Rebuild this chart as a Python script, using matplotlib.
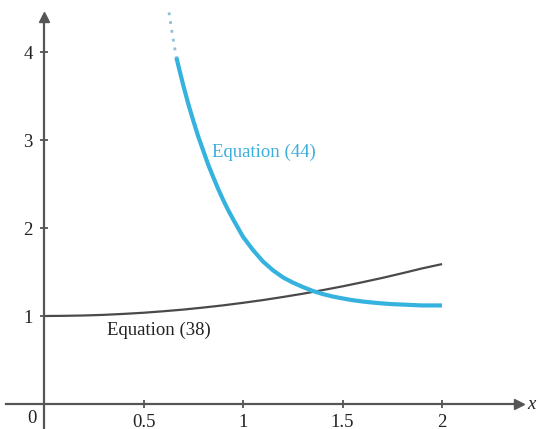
import matplotlib
matplotlib.use("Agg")
import matplotlib.pyplot as plt

# Equation (38) curve
x38 = [0.0, 0.1, 0.2, 0.3, 0.4, 0.5, 0.6, 0.7, 0.8, 0.9, 1.0,
       1.1, 1.2, 1.3, 1.4, 1.5, 1.6, 1.7, 1.8, 1.9, 2.0]
y38 = [1.000, 1.002, 1.006, 1.013, 1.024, 1.037, 1.054, 1.073, 1.096, 1.121, 1.150,
       1.181, 1.216, 1.253, 1.294, 1.337, 1.384, 1.433, 1.486, 1.541, 1.590]

# Equation (44) curve, solid part
x44 = [0.665, 0.68, 0.70, 0.725, 0.75, 0.775, 0.80, 0.825, 0.85, 0.875, 0.90,
       0.925, 0.95, 0.975, 1.0, 1.05, 1.1, 1.15, 1.2, 1.25, 1.3, 1.35, 1.4,
       1.45, 1.5, 1.55, 1.6, 1.65, 1.7, 1.75, 1.8, 1.85, 1.9, 1.95, 2.0]
y44 = [3.94, 3.80, 3.62, 3.41, 3.22, 3.04, 2.88, 2.72, 2.58, 2.445, 2.32,
       2.205, 2.10, 2.00, 1.90, 1.75, 1.62, 1.52, 1.44, 1.38, 1.33, 1.285, 1.25,
       1.222, 1.20, 1.18, 1.165, 1.153, 1.143, 1.135, 1.13, 1.125, 1.12, 1.12, 1.12]

# Equation (44) dotted continuation
x44d = [0.628, 0.645, 0.665]
y44d = [4.45, 4.20, 3.94]

xticks = [0.5, 1, 1.5, 2]
xticklabels = ["0.5", "1", "1.5", "2"]
yticks = [1, 2, 3, 4]
yticklabels = ["1", "2", "3", "4"]

plt.rcParams['font.family'] = ['Liberation Serif', 'DejaVu Serif']

fig = plt.figure(figsize=(5.38, 4.29), dpi=100)
ax = fig.add_axes([0, 0, 1, 1])
ax.set_xlim(-0.221, 2.482)
ax.set_ylim(-0.284, 4.591)

axis_color = '#555555'
cyan = '#35b2de'

for s in ['top', 'right']:
    ax.spines[s].set_visible(False)
ax.spines['left'].set_position(('data', 0))
ax.spines['bottom'].set_position(('data', 0))
ax.spines['left'].set_bounds(-0.3, 4.38)
ax.spines['bottom'].set_bounds(-0.19, 2.37)
for s in ['left', 'bottom']:
    ax.spines[s].set_color(axis_color)
    ax.spines[s].set_linewidth(1.6)

ax.plot([2.385], [0], marker='>', color=axis_color, markersize=7, clip_on=False)
ax.plot([0], [4.40], marker='^', color=axis_color, markersize=7, clip_on=False)

ax.set_xticks(xticks)
ax.set_xticklabels(xticklabels)
ax.set_yticks(yticks)
ax.set_yticklabels(yticklabels)
ax.tick_params(direction='inout', length=6, width=1.3, color=axis_color,
               labelsize=13.5, labelcolor='#222222')
ax.tick_params(axis='x', pad=4)
ax.tick_params(axis='y', pad=5)

ax.text(-0.06, -0.16, "0", fontsize=13.5, color='#222222', ha='center', va='center')
ax.text(2.43, 0.0, "x", fontsize=13.5, color='#222222', ha='left', va='center',
        style='italic')

ax.plot(x38, y38, color='#4a4a4a', lw=1.6, solid_capstyle='butt')
ax.plot(x44, y44, color=cyan, lw=3.0, solid_capstyle='butt')
ax.plot(x44d, y44d, color='#8cc0d6', lw=2.0, linestyle=(0, (1, 2.2)))

ax.text(0.845, 2.86, "Equation (44)", fontsize=13.5, color='#3aaedc',
        ha='left', va='center')
ax.text(0.317, 0.84, "Equation (38)", fontsize=13.5, color='#222222',
        ha='left', va='center')

fig.savefig("out.png", dpi=100)
